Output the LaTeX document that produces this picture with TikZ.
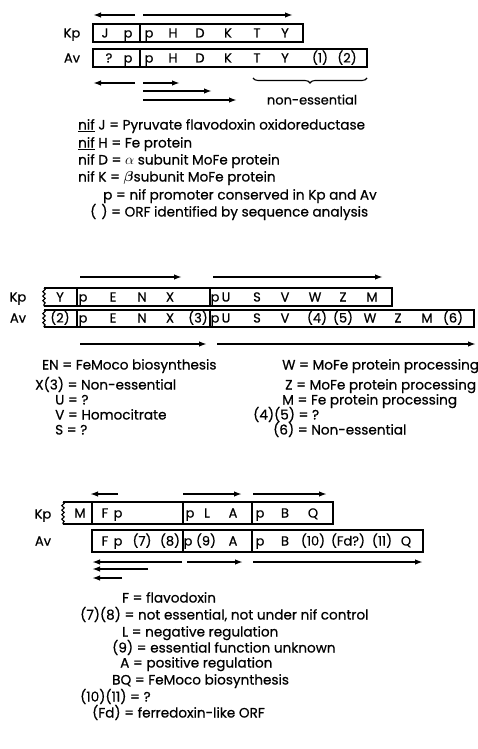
\documentclass[tikz,border=0pt]{standalone}
\usepackage{amsmath}
\usepackage{fontspec}
\setmainfont{Poppins}[FakeBold=0.6]
\usetikzlibrary{arrows.meta,decorations.pathmorphing,decorations.pathreplacing}
\begin{document}
\begin{tikzpicture}[x=1pt,y=-1pt,
  gbox/.style={line width=1.4pt},
  wavy/.style={line width=1.1pt,decorate,decoration={snake,amplitude=1.2pt,segment length=4.5pt}},
  tx/.style={line width=1.8pt,-{Latex[length=8pt,width=5.5pt]}},
  g/.style={font=\fontsize{13}{14}\selectfont,inner sep=0pt,text height=9pt,text depth=0pt},
  lg/.style={font=\fontsize{13.6}{14}\selectfont,inner sep=0pt,anchor=west,text height=9pt,text depth=0pt},
  sp/.style={font=\fontsize{13}{14}\selectfont,inner sep=0pt,text height=9pt,text depth=0pt}]
\useasboundingbox (0,0) rectangle (478,749);
% ===== Section 1 =====
\node[sp] (k1) at (72,33) {Kp};
\node[sp] (a1) at (72,58) {Av};
\draw[gbox] (93,24) rectangle (303,42);
\draw[gbox] (140,24) -- (140,42);
\draw[gbox] (93,49) rectangle (367,67);
\draw[gbox] (140,49) -- (140,67);
\foreach \lab/\x in {J/105,p/128,p/149,H/173,D/200,K/228,T/257,Y/285}
  \node[g] at (\x,33) {\lab};
\foreach \lab/\x in {?/109,p/128,p/149,H/173,D/200,K/228,T/257,Y/285,(1)/320,(2)/347}
  \node[g] at (\x,58) {\lab};
\draw[tx] (135,15) -- (93,15);
\draw[tx] (143,15) -- (293,15);
\draw[tx] (135,83) -- (93,83);
\draw[tx] (143,83) -- (180,83);
\draw[tx] (143,91) -- (212,91);
\draw[tx] (143,100) -- (237,100);
\draw[line width=1.1pt,decorate,decoration={brace,mirror,amplitude=5pt}] (253,78) -- (367,78);
\node[g] (ne) at (312,100) {non-essential};
\node[lg] (l1) at (78,125) {\underline{nif} J = Pyruvate flavodoxin oxidoreductase};
\node[lg] (l2) at (78,143) {\underline{nif} H = Fe protein};
\node[lg] (l3) at (78,160) {nif D = $\alpha$ subunit MoFe protein};
\node[lg] (l4) at (78,177) {nif K = $\boldsymbol{\beta}$subunit MoFe protein};
\node[lg] (l5) at (103,195) {p = nif promoter conserved in Kp and Av};
\node[lg] (l6) at (90,212) {(\hspace{5pt}) = ORF identified by sequence analysis};
% ===== Section 2 =====
\node[sp] (k2) at (18,297) {Kp};
\node[sp] (a2) at (18,318) {Av};
\draw[gbox] (44,288) -- (392,288) -- (392,306) -- (44,306);
\draw[wavy] (44,288) -- (44,306);
\draw[gbox] (77,288) -- (77,306);
\draw[gbox] (210,288) -- (210,306);
\draw[gbox] (44,310) -- (474,310) -- (474,327) -- (44,327);
\draw[wavy] (44,310) -- (44,327);
\draw[gbox] (77,310) -- (77,327);
\draw[gbox] (210,310) -- (210,327);
\foreach \lab/\x in {Y/60,p/83,E/113,N/142,X/170,p/215,U/226,S/257,V/285,W/315,Z/343,M/372}
  \node[g] at (\x,297) {\lab};
\foreach \lab/\x in {(2)/60,p/83,E/113,N/142,X/170,(3)/198,p/215,U/226,S/257,V/285,(4)/317,(5)/343,W/370,Z/398,M/427,(6)/453}
  \node[g] at (\x,318) {\lab};
\draw[tx] (80,277) -- (182,277);
\draw[tx] (213,277) -- (383,277);
\draw[tx] (80,344) -- (207,344);
\draw[tx] (217,344) -- (476,344);
\node[lg] (m1) at (42,365) {EN = FeMoco biosynthesis};
\node[lg] (m2) at (35,385) {X(3) = Non-essential};
\node[lg] (m3) at (55,400) {U = ?};
\node[lg] (m4) at (55,415) {V = Homocitrate};
\node[lg] (m5) at (55,430) {S = ?};
\node[lg] (n1) at (282,365) {W = MoFe protein processing};
\node[lg] (n2) at (285,385) {Z = MoFe protein processing};
\node[lg] (n3) at (282,400) {M = Fe protein processing};
\node[lg] (n4) at (253,415) {(4)(5) = ?};
\node[lg] (n5) at (273,430) {(6) = Non-essential};
% ===== Section 3 =====
\node[sp] (k3) at (43,514) {Kp};
\node[sp] (a3) at (43,541) {Av};
\draw[gbox] (63,502) -- (333,502) -- (333,524) -- (63,524);
\draw[wavy] (63,502) -- (63,524);
\foreach \x in {92,183,252} \draw[gbox] (\x,502) -- (\x,524);
\draw[gbox] (92,530) rectangle (423,552);
\foreach \x in {183,252} \draw[gbox] (\x,530) -- (\x,552);
\foreach \lab/\x in {M/80,F/105,p/118,p/190,L/207,A/233,p/260,B/285,Q/313}
  \node[g] at (\x,513) {\lab};
\foreach \lab/\x in {F/105,p/118,(7)/142,(8)/170,p/188,(9)/206,A/233,p/260,B/285,(10)/313,(Fd?)/348,(11)/382,Q/406}
  \node[g] at (\x,541) {\lab};
\draw[tx] (118,494) -- (90,494);
\draw[tx] (183,494) -- (242,494);
\draw[tx] (253,494) -- (327,494);
\draw[tx] (182,562) -- (92,562);
\draw[tx] (187,562) -- (243,562);
\draw[tx] (253,562) -- (423,562);
\draw[tx] (148,569) -- (92,569);
\draw[tx] (122,578) -- (92,578);
\node[lg] (o1) at (122,598) {F = flavodoxin};
\node[lg] (o2) at (80,615) {(7)(8) = not essential, not under nif control};
\node[lg] (o3) at (122,632) {L = negative regulation};
\node[lg] (o4) at (112,648) {(9) = essential function unknown};
\node[lg] (o5) at (120,663) {A = positive regulation};
\node[lg] (o6) at (112,680) {BQ = FeMoco biosynthesis};
\node[lg] (o7) at (80,697) {(10)(11) = ?};
\node[lg] (o8) at (92,713) {(Fd) = ferredoxin-like ORF};
\end{tikzpicture}
\end{document}
